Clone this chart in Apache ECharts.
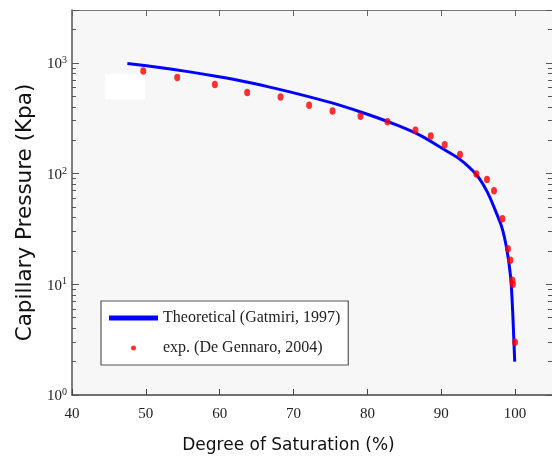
<!DOCTYPE html>
<html><head><meta charset="utf-8">
<script src="https://cdn.jsdelivr.net/npm/echarts@6/dist/echarts.min.js"></script>
<style>html,body{margin:0;padding:0;background:#fff}#c{width:552px;height:460px}</style>
</head><body><div id="c"></div>
<script>
// Theoretical curve (Gatmiri, 1997): degree of saturation (%) and capillary pressure (kPa)
const theorySat = [47.5, 51.6, 55.7, 59.7, 63.8, 67.8, 71.9, 76.0, 80.0, 84.1, 87.1, 90.5, 92.5, 94.8, 96.2, 97.2, 98.2, 98.9, 99.4, 99.6, 99.8, 99.95];
const theoryPc  = [986, 912, 833, 752, 668, 582, 498, 419, 343, 272, 222, 163, 135, 97, 69, 48.7, 32.8, 20.4, 11.6, 7.2, 3.6, 2.0];
// Experimental points (De Gennaro, 2004)
const expSat = [49.65, 54.25, 59.35, 63.72, 68.24, 72.11, 75.28, 79.07, 82.72, 86.51, 88.58, 90.47, 92.54, 94.76, 96.2, 97.15, 98.28, 99.04, 99.36, 99.63, 99.7, 100.0];
const expPc  = [845, 737, 637, 540, 492, 414, 368, 330, 293, 246, 218, 182, 149, 99, 88.5, 70, 39, 20.9, 16.5, 10.9, 10.0, 3.0];
const seriesNames = ['Theoretical (Gatmiri, 1997)', 'exp. (De Gennaro, 2004)'];
const xTitle = 'Degree of Saturation (%)';
const yTitle = 'Capillary Pressure (Kpa)';

const pair = (xs, ys) => xs.map((x, i) => [x, ys[i]]);
const serif = 'Liberation Serif';
const sans = 'DejaVu Sans';
const txt = '#222';

const chart = echarts.init(document.getElementById('c'), null, {renderer: 'canvas'});
const xCommon = {type: 'value', min: 40, max: 105, interval: 10, splitLine: {show: false}};
const yCommon = {type: 'log', logBase: 10, min: 1, max: 3000, splitLine: {show: false}};
chart.setOption({
  animation: false,
  backgroundColor: '#ffffff',
  grid: {left: 72, right: 0, top: 10, bottom: 65, show: true, backgroundColor: '#f7f7f7', borderWidth: 0},
  graphic: [{type: 'rect', z: 1, shape: {x: 105, y: 74, width: 40, height: 25}, style: {fill: '#ffffff'}}],
  legend: {
    left: 101, top: 301, orient: 'vertical', itemWidth: 49, itemHeight: 5, itemGap: 14,
    padding: [9, 8, 9, 8], backgroundColor: '#ffffff', borderColor: '#555', borderWidth: 1.2, borderRadius: 0,
    selectedMode: false,
    textStyle: {fontFamily: serif, fontSize: 16, color: txt},
    data: [{name: seriesNames[0], icon: 'rect'}, {name: seriesNames[1], icon: 'circle'}]
  },
  xAxis: [
    Object.assign({}, xCommon, {
      position: 'bottom',
      name: xTitle, nameLocation: 'middle', nameGap: 42,
      nameTextStyle: {fontFamily: sans, fontSize: 17, color: '#111', padding: [0, 47, 0, 0]},
      axisLine: {lineStyle: {color: '#444', width: 1.5}},
      axisTick: {inside: true, length: 6, lineStyle: {color: '#444'}},
      axisLabel: {margin: 12, showMaxLabel: false, fontFamily: serif, fontSize: 15, color: txt}
    }),
    Object.assign({}, xCommon, {
      position: 'top',
      axisLine: {lineStyle: {color: '#777', width: 1.2}},
      axisTick: {inside: true, length: 6, lineStyle: {color: '#666'}},
      axisLabel: {show: false}
    })
  ],
  yAxis: [
    Object.assign({}, yCommon, {
      position: 'left',
      name: yTitle, nameLocation: 'middle', nameGap: 33, nameRotate: 90,
      nameTextStyle: {fontFamily: sans, fontSize: 21.5, color: '#111', padding: [0, 20, 0, 0]},
      axisLine: {lineStyle: {color: '#555', width: 1.5}},
      axisTick: {inside: true, length: 7, lineStyle: {color: '#555'}},
      minorTick: {show: true, splitNumber: 9, length: 4, lineStyle: {color: '#555'}},
      axisLabel: {
        margin: 5, showMaxLabel: false,
        formatter: function (v) {
          const e = Math.round(Math.log10(v));
          if (Math.abs(Math.pow(10, e) - v) > 1e-6 * v) return '';
          return '{b|10}{s|' + e + '}';
        },
        rich: {
          b: {fontFamily: serif, fontSize: 15, lineHeight: 15, padding: [8, 0, 5, 0], color: txt},
          s: {fontFamily: serif, fontSize: 10, lineHeight: 10, verticalAlign: 'top', color: txt}
        }
      }
    }),
    Object.assign({}, yCommon, {
      position: 'right',
      axisLine: {show: false},
      axisTick: {inside: true, length: 6, lineStyle: {color: '#555'}},
      minorTick: {show: true, splitNumber: 9, length: 4, lineStyle: {color: '#555'}},
      axisLabel: {show: false}
    })
  ],
  series: [
    {
      name: seriesNames[0], type: 'line', xAxisIndex: 0, yAxisIndex: 0,
      data: pair(theorySat, theoryPc), smooth: 0.3, showSymbol: false, symbol: 'none',
      color: '#0000ff', lineStyle: {color: '#0000ff', width: 3}, z: 3, silent: true
    },
    {
      name: seriesNames[1], type: 'scatter', xAxisIndex: 0, yAxisIndex: 0,
      data: pair(expSat, expPc), symbol: 'circle', symbolSize: [6, 7.5],
      color: '#ff0000', itemStyle: {color: '#ff0000'}, z: 4, silent: true
    }
  ]
});
</script>
</body></html>
